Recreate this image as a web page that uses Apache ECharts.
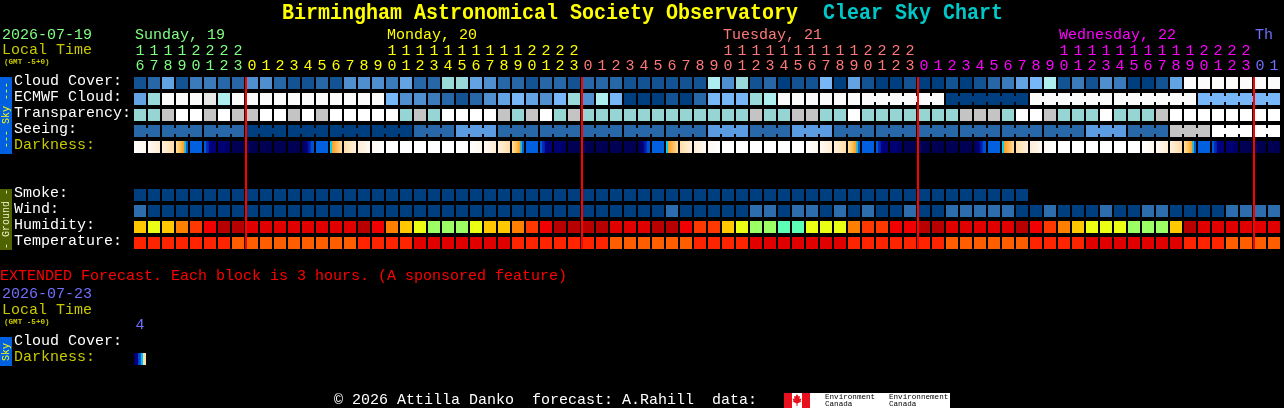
<!DOCTYPE html>
<html><head><meta charset="utf-8">
<style>html,body{margin:0;padding:0;background:#000;overflow:hidden}#c{width:1284px;height:408px}</style>
<script src="https://cdn.jsdelivr.net/npm/echarts@6/dist/echarts.min.js"></script>
</head><body><div id="c"></div>
<script>
const hours=[16,17,18,19,20,21,22,23,0,1,2,3,4,5,6,7,8,9,10,11,12,13,14,15,16,17,18,19,20,21,22,23,0,1,2,3,4,5,6,7,8,9,10,11,12,13,14,15,16,17,18,19,20,21,22,23,0,1,2,3,4,5,6,7,8,9,10,11,12,13,14,15,16,17,18,19,20,21,22,23,0,1];
const rowNames=['Cloud Cover:','ECMWF Cloud:','Transparency:','Seeing:','Darkness:','',' ','Smoke:','Wind:','Humidity:','Temperature:'];
const cloudCover=[1,2,5,1,3,3,2,2,4,4,2,1,1,2,1,4,4,4,3,5,2,2,7,7,5,4,2,2,1,2,2,1,2,2,2,1,1,1,1,1,1,8,4,7,1,2,0,1,1,6,0,5,1,0,0,1,0,0,1,0,1,2,3,5,6,8,1,3,1,4,3,0,0,1,5,10,10,10,10,10,10,10];
const ecmwfCloud=[5,7,10,10,10,9,8,10,10,10,10,10,10,10,10,10,10,10,6,4,4,3,2,1,2,4,5,6,5,4,6,7,4,8,6,0,0,0,1,0,2,6,6,6,7,8,10,10,10,10,10,10,10,10,10,10,10,10,0,0,0,0,0,0,10,10,10,10,10,10,10,10,10,10,10,10,6,6,6,6,6,6];
const transparency=[1,1,2,0,0,2,0,2,2,0,0,2,0,2,0,0,0,0,0,1,2,1,0,0,0,0,2,1,2,0,1,2,1,1,1,1,1,1,1,1,1,1,1,1,2,1,1,2,2,1,1,0,1,1,1,1,1,1,1,2,2,2,1,0,0,2,1,1,1,0,1,1,1,2,0,0,0,0,0,0,0,0];
const seeing=[1,1,1,1,1,1,1,1,0,0,0,0,0,0,0,0,0,0,0,0,1,1,1,2,2,2,1,1,1,1,1,1,1,1,1,1,1,1,1,1,1,2,2,2,1,1,1,2,2,2,1,1,1,1,1,1,1,1,1,1,1,1,1,1,1,1,1,1,2,2,2,1,1,1,3,3,3,4,4,4,4,4];
const darkness=[1,2,3,4,5,6,7,8,8,8,8,8,9,5,10,11,12,13,0,0,0,0,0,0,1,2,3,4,5,6,7,8,8,8,8,8,9,5,10,11,12,13,0,0,0,0,0,0,1,2,3,4,5,6,7,8,8,8,8,8,9,5,10,11,12,13,0,0,0,0,0,0,1,2,3,4,5,6,7,8,8,8];
const smoke=[0,0,0,0,0,0,0,0,0,0,0,0,0,0,0,0,0,0,0,0,0,0,0,0,0,0,0,0,0,0,0,0,0,0,0,0,0,0,0,0,0,0,0,0,0,0,0,0,0,0,0,0,0,0,0,0,0,0,0,0,0,0,0,0];
const wind=[1,0,0,0,0,0,0,0,0,0,0,0,0,0,0,0,0,0,0,0,0,0,0,0,0,0,0,0,0,0,0,0,0,0,0,0,0,0,1,0,0,0,0,0,1,1,0,1,1,0,1,0,1,0,0,1,0,0,1,1,1,1,1,0,0,1,0,0,0,1,0,0,1,1,0,0,0,0,1,1,1,1];
const humidity=[5,6,5,4,3,2,0,0,1,1,1,1,1,1,1,1,0,2,4,5,6,7,7,7,6,5,5,4,3,2,0,0,0,0,1,1,1,0,0,2,3,3,5,6,7,7,8,8,6,6,6,4,3,3,2,2,0,0,1,1,1,1,1,0,2,3,4,5,6,6,6,7,7,7,5,0,1,1,1,1,1,1];
const temperature=[1,1,1,1,1,1,1,2,2,2,2,2,2,2,2,2,1,1,1,1,0,0,0,0,0,0,0,1,1,1,1,1,1,1,2,2,2,2,2,2,1,1,1,1,0,0,0,0,0,0,0,1,1,1,1,1,1,1,2,2,2,2,2,2,1,1,1,1,0,0,0,0,0,0,0,1,1,1,2,2,2,2];
const dayLabels=[[0,'Sunday, 19'],[18,'Monday, 20'],[42,'Tuesday, 21'],[66,'Wednesday, 22'],[80,'Th']];
const midnights=[8,32,56,80];
const extendedHours=['4'];
const extendedDarkness=[14];

const GREEN='#80FF80',YEL='#FFFF00',PINK='#FF7878',MAG='#FF00FF',BLUE='#7070FF',DIM='#C8C800';
const dayColors=[GREEN,YEL,PINK,MAG,BLUE];
const colorOfIndex=i=>i<8?GREEN:i<32?YEL:i<56?PINK:i<80?MAG:BLUE;
const cloudPal=['#003F7F','#135393','#2767A7','#3B7BBB','#4F8FCF','#63A3E3','#77B7F7','#99D9D9','#AEEEEE','#E8E8E8','#FBFBFB'];
const transPal=['#FFFFFF','#97D5D5','#C4C4C4'];
const seePal=['#003F7F','#2968A8','#5A9BE2','#C4C4C4','#FFFFFF'];
const windPal=['#003F7F','#2E6DAD'];
const humPal=['#B80000','#E00000','#F00000','#FF3800','#FF8000','#FFC800','#EBFF14','#9CFF64','#5CFFB4'];
const tempPal=['#E00000','#FF2400','#FF5E00'];
const st=(...a)=>a.map(([o,c])=>({offset:o,color:c}));
const darkStops=[
 st([0,'#FFFFFF'],[1,'#FFFFFF']),
 st([0,'#FFFFFF'],[1,'#FFF6E8']),
 st([0,'#FFFAF2'],[1,'#FFEDD4']),
 st([0,'#FFF0DC'],[1,'#FFDDA8']),
 st([0,'#FFE0A0'],[.45,'#FFB848'],[.66,'#FF9C20'],[.67,'#50C090'],[.83,'#20B0E0'],[.84,'#0060E0'],[1,'#0060E0']),
 st([0,'#0060E0'],[1,'#0060E0']),
 st([0,'#0058D8'],[.17,'#0058D8'],[.18,'#0030B8'],[.4,'#0020A8'],[.42,'#000090'],[1,'#000070']),
 st([0,'#000078'],[1,'#000068']),
 st([0,'#000058'],[1,'#000050']),
 st([0,'#000058'],[.45,'#000080'],[.5,'#0010A0'],[.75,'#0030B8'],[.76,'#0050D0'],[1,'#0050D0']),
 st([0,'#00D0F8'],[.16,'#00D0F8'],[.17,'#FF9C20'],[.6,'#FFBE60'],[1,'#FFDCA0']),
 st([0,'#FFDFA8'],[1,'#FFF0DC']),
 st([0,'#FFEDD4'],[1,'#FFFAF2']),
 st([0,'#FFF8F0'],[1,'#FFFFFF']),
 st([0,'#000060'],[.33,'#000090'],[.34,'#0040C0'],[.6,'#0060E0'],[.61,'#00C0F8'],[.74,'#00C0F8'],[.75,'#FFDCA0'],[1,'#FFDCA0'])
];
const MONO='"Liberation Mono",monospace';

function cellSeries(rowIndex,values,fillOf,linked,gridIndex){
 return {type:'custom',xAxisIndex:gridIndex||0,yAxisIndex:gridIndex||0,z:2,
  data:values.map((v,i)=>[i,rowIndex,v]),
  encode:{x:0,y:1},
  renderItem(p,api){
   const i=api.value(0),c=api.coord([i,api.value(1)]),f=fillOf(api.value(2));
   const ch=[{type:'rect',shape:{x:c[0]-6,y:c[1]-6,width:12,height:12},style:{fill:f}}];
   if(linked&&i+1<values.length&&linked(i)===linked(i+1))
     ch.push({type:'rect',shape:{x:c[0]+6,y:c[1]-3,width:2,height:6},style:{fill:f}});
   return {type:'group',children:ch};
  },silent:true,animation:false};
}
const seeingBlock=i=>Math.floor((i+1)/3);
const ecmwfBlock=i=>i<52?'s'+i:Math.floor((i-52)/6);
const series=[
 cellSeries(0,cloudCover,v=>cloudPal[v]),
 cellSeries(1,ecmwfCloud,v=>cloudPal[v],ecmwfBlock),
 cellSeries(2,transparency,v=>transPal[v]),
 cellSeries(3,seeing,v=>seePal[v],seeingBlock),
 cellSeries(4,darkness,v=>new echarts.graphic.LinearGradient(0,0,1,0,darkStops[v])),
 cellSeries(7,smoke,v=>cloudPal[v]),
 cellSeries(8,wind,v=>windPal[v]),
 cellSeries(9,humidity,v=>humPal[v]),
 cellSeries(10,temperature,v=>tempPal[v]),
 cellSeries(1,extendedDarkness,v=>new echarts.graphic.LinearGradient(0,0,1,0,darkStops[v]),null,1),
 {type:'custom',z:5,silent:true,animation:false,data:midnights.map(i=>[i]),encode:{x:0},
  renderItem(p,api){const a=api.coord([api.value(0),0]),b=api.coord([api.value(0),10]);
   return {type:'rect',shape:{x:a[0]-7,y:a[1]-6,width:2,height:b[1]-a[1]+12},style:{fill:'#FF0000'}};}},
 {type:'custom',z:5,silent:true,animation:false,data:dayLabels.map((d,k)=>[d[0],k]),encode:{x:0},
  renderItem(p,api){const k=api.value(1),a=api.coord([api.value(0),0]);
   return {type:'text',style:{x:a[0]-5,y:a[1]-48,text:dayLabels[k][1],fill:dayColors[k],font:'15px '+MONO,textAlign:'left',textVerticalAlign:'middle'}};}}
];
const T=(text,x,y,fill,size,weight,extra)=>Object.assign({type:'text',x,y,silent:true,z:10,style:{text,fill,font:(weight||'normal')+' '+size+'px '+MONO,textAlign:'left',textVerticalAlign:'middle'}},extra||{});
const V=(text,x,y,fill)=>{const t=T(text,x,y,fill,10);t.rotation=Math.PI/2;t.style.textAlign='center';return t;};
const R=(x,y,w,h,fill,z)=>({type:'rect',silent:true,z:z||9,shape:{x,y,width:w,height:h},style:{fill}});
const graphic=[
 T('Birmingham Astronomical Society Observatory',282,13,'#FFFF00',20,'bold',{scaleY:1.12,originY:0}),
 T('Clear Sky Chart',823,13,'#00C8C8',20,'bold',{scaleY:1.12,originY:0}),
 T('2026-07-19',2,35,GREEN,15),
 T('Local Time',2,50,DIM,15),
 T('(GMT -5+0)',4,62,DIM,7.6,'bold'),
 R(0,77,12,77,'#0060E0'),
 V('--- Sky ---',6,115,'#FFFF00'),
 R(0,189,12,61,'#4F6400'),
 V('- Ground -',6,219,'#F0F0C8'),
 T('EXTENDED Forecast. Each block is 3 hours. (A sponsored feature)',0,276,'#FF0000',15),
 T('2026-07-23',2,294,BLUE,15),
 T('Local Time',2,310,DIM,15),
 T('(GMT -5+0)',4,322,DIM,7.6,'bold'),
 R(0,337,12,29,'#0060E0'),
 V('Sky',6,352,'#FFFF00'),
 T('\u00A9 2026 Attilla Danko  forecast: A.Rahill  data:',334,400,'#FFFFFF',15),
 R(784,393,166,15,'#FFFFFF'),R(784,393,8,15,'#E8101C',10),R(802,393,8,15,'#E8101C',10),
 {type:'polygon',silent:true,z:11,shape:{points:[[797,394],[798.5,396.5],[800,396],[799.5,399],[801.5,398.5],[800.5,401],[801.5,401.5],[797.5,403.5],[797.5,406],[796.5,406],[796.5,403.5],[792.5,401.5],[793.5,401],[792.5,398.5],[794.5,399],[794,396],[795.5,396.5]]},style:{fill:'#E8101C'}},
 T('Environment',825,397,'#000',7.6),T('Canada',825,404,'#000',7.6),
 T('Environnement',889,397,'#000',7.6),T('Canada',889,404,'#000',7.6)
];
const hid={axisLine:{show:false},axisTick:{show:false},splitLine:{show:false}};
const yLab={show:true,interval:0,align:'left',margin:119,verticalAlign:'bottom',lineHeight:4,fontFamily:'Liberation Mono',fontSize:15,
    color:v=>v==='Darkness:'?DIM:'#FFFFFF'};
const option={
 backgroundColor:'#000',animation:false,graphic,series,
 grid:[{left:133,top:75,width:1148,height:176},{left:133,top:335,width:14,height:32}],
 xAxis:[
  Object.assign({type:'category',gridIndex:0,position:'top',data:hours.map(String),
   axisLabel:{show:true,interval:0,margin:1,fontFamily:'Liberation Mono',fontSize:15,lineHeight:15,
    color:(v,i)=>colorOfIndex(i),
    formatter:v=>(v.length>1?v[0]:' ')+'\n'+v[v.length-1]}},hid),
  Object.assign({type:'category',gridIndex:1,position:'top',data:extendedHours,
   axisLabel:{show:true,interval:0,margin:2,fontFamily:'Liberation Mono',fontSize:15,color:BLUE}},hid)
 ],
 yAxis:[
  Object.assign({type:'category',gridIndex:0,inverse:true,data:rowNames,axisLabel:yLab},hid),
  Object.assign({type:'category',gridIndex:1,inverse:true,data:['Cloud Cover:','Darkness:'],axisLabel:yLab},hid)
 ]
};
const chart=echarts.init(document.getElementById('c'),null,{renderer:'canvas',width:1284,height:408,devicePixelRatio:1});
chart.setOption(option);
</script></body></html>
